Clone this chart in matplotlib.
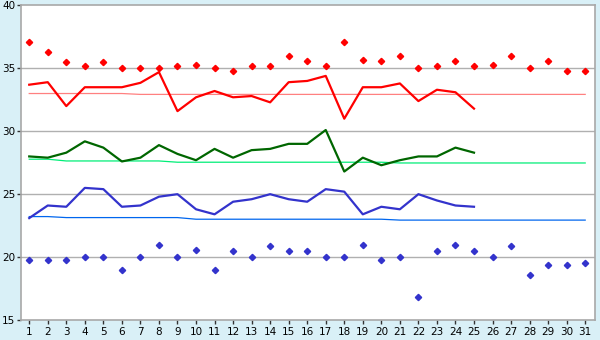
import matplotlib
matplotlib.use("Agg")
import matplotlib.pyplot as plt

days = list(range(1, 32))
line_days = list(range(1, 26))

red_max = [37.1, 36.3, 35.5, 35.2, 35.5, 35.0, 35.0, 35.0, 35.2, 35.3, 35.0, 34.8, 35.2, 35.2, 36.0, 35.6,
           35.2, 37.1, 35.7, 35.6, 36.0, 35.0, 35.2, 35.6, 35.2, 35.3, 36.0, 35.0, 35.6, 34.8, 34.8]
red_line = [33.7, 33.9, 32.0, 33.5, 33.5, 33.5, 33.85, 34.7, 31.6, 32.7, 33.2, 32.7, 32.8, 32.3, 33.9, 34.0,
            34.4, 31.0, 33.5, 33.5, 33.8, 32.4, 33.3, 33.1, 31.8]
red_avg = [33.0] * 6 + [32.93] * 25

green_line = [28.0, 27.9, 28.3, 29.2, 28.7, 27.6, 27.9, 28.9, 28.2, 27.7, 28.6, 27.9, 28.5, 28.6, 29.0, 29.0,
              30.1, 26.8, 27.9, 27.3, 27.7, 28.0, 28.0, 28.7, 28.3]
green_avg = [27.78] * 2 + [27.64] * 6 + [27.54] * 12 + [27.48] * 11

blue_line = [23.1, 24.1, 24.0, 25.5, 25.4, 24.0, 24.1, 24.8, 25.0, 23.8, 23.4, 24.4, 24.6, 25.0, 24.6, 24.4,
             25.4, 25.2, 23.4, 24.0, 23.8, 25.0, 24.5, 24.1, 24.0]
blue_avg = [23.22] * 2 + [23.14] * 7 + [23.01] * 11 + [22.94] * 11
blue_min = [19.8, 19.8, 19.8, 20.0, 20.0, 19.0, 20.0, 21.0, 20.0, 20.6, 19.0, 20.5, 20.0, 20.9, 20.5, 20.5,
            20.0, 20.0, 21.0, 19.8, 20.0, 16.8, 20.5, 21.0, 20.5, 20.0, 20.9, 18.6, 19.4, 19.4, 19.5]

y_ticks = [15, 20, 25, 30, 35, 40]

bg = "#d9f0f7"
fig = plt.figure(figsize=(6, 3.4), dpi=100, facecolor=bg)
ax = fig.add_axes([0.0345, 0.0588, 0.9575, 0.9252])
ax.set_facecolor("white")

for y in y_ticks[1:-1]:
    ax.axhline(y, color="#b0b0b0", lw=1.0, zorder=1)

ax.plot(days, red_avg, color="#ff8080", lw=0.9, zorder=2)
ax.plot(days, green_avg, color="#00ee77", lw=0.9, zorder=2)
ax.plot(days, blue_avg, color="#0066ee", lw=0.9, zorder=2)

ax.plot(line_days, red_line, color="#ff0000", lw=1.6, zorder=3)
ax.plot(line_days, green_line, color="#006600", lw=1.6, zorder=3)
ax.plot(line_days, blue_line, color="#3333cc", lw=1.6, zorder=3)

ax.plot(days, red_max, ls="none", marker="D", ms=3.2, color="#ff0000", zorder=4)
ax.plot(days, blue_min, ls="none", marker="D", ms=3.2, color="#3333cc", zorder=4)

ax.set_xlim(0.54, 31.54)
ax.set_ylim(15, 40)
ax.set_xticks(days)
ax.set_yticks(y_ticks)
ax.tick_params(axis="both", labelsize=7.5, length=3, width=1, color="#333333", pad=1)
ax.tick_params(axis="x", pad=2)
for s in ax.spines.values():
    s.set_color("#a8a8a8")
    s.set_linewidth(1.2)

fig.savefig("out.png", dpi=100, facecolor=bg)
